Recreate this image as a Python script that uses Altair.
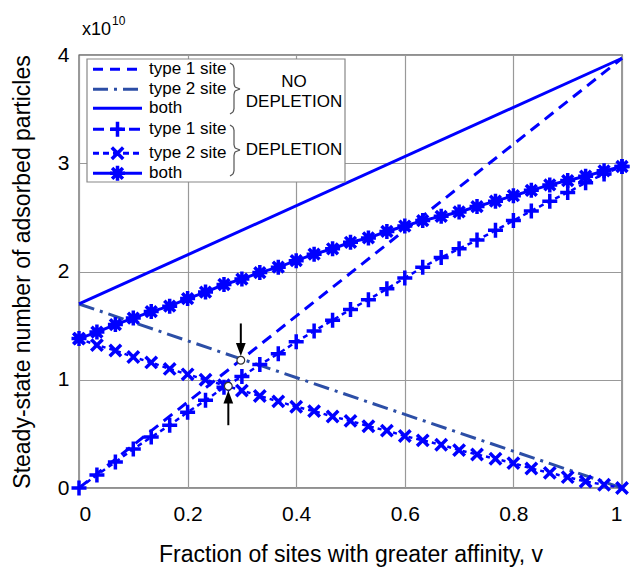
import altair as alt
import pandas as pd

# ---------------- data ----------------
v = [0.0, 0.033, 0.067, 0.1, 0.133, 0.167, 0.2, 0.233, 0.267, 0.3, 0.333, 0.367, 0.4,
     0.433, 0.467, 0.5, 0.533, 0.567, 0.6, 0.633, 0.667, 0.7, 0.733, 0.767, 0.8, 0.833,
     0.867, 0.9, 0.933, 0.967, 1.0]
dep_type1 = [0.0, 0.12, 0.24, 0.36, 0.47, 0.58, 0.70, 0.81, 0.93, 1.03, 1.14, 1.24, 1.35,
             1.45, 1.55, 1.65, 1.74, 1.84, 1.94, 2.04, 2.13, 2.21, 2.29, 2.38, 2.47, 2.56,
             2.65, 2.73, 2.82, 2.90, 2.97]
dep_type2 = [1.38, 1.32, 1.27, 1.21, 1.16, 1.10, 1.05, 1.00, 0.95, 0.90, 0.85, 0.80, 0.75,
             0.71, 0.66, 0.62, 0.57, 0.53, 0.48, 0.44, 0.40, 0.35, 0.31, 0.27, 0.23, 0.18,
             0.14, 0.10, 0.06, 0.03, 0.0]
dep_both = [1.38, 1.44, 1.51, 1.57, 1.63, 1.68, 1.75, 1.81, 1.88, 1.93, 1.99, 2.04, 2.10,
            2.16, 2.21, 2.27, 2.31, 2.37, 2.42, 2.47, 2.51, 2.55, 2.60, 2.65, 2.70, 2.75,
            2.80, 2.84, 2.88, 2.93, 2.97]

nd_v = [0.0, 1.0]
nd_type1 = [0.0, 3.97]
nd_type2 = [1.70, 0.0]
nd_both = [1.70, 3.97]

circle_v = [0.298, 0.275]
circle_y = [1.18, 0.94]
arrow_down_v = [0.298]
arrow_down_from = [1.52]
arrow_down_head = [1.28]
arrow_up_v = [0.275]
arrow_up_from = [0.58]
arrow_up_head = [0.84]

x_ticks = [0, 0.2, 0.4, 0.6, 0.8, 1]
y_ticks = [0, 1, 2, 3, 4]

x_title = "Fraction of sites with greater affinity, v"
y_title = "Steady-state number of adsorbed particles"

legend_labels = ["type 1 site", "type 2 site", "both", "type 1 site", "type 2 site", "both"]

# ---------------- styling ----------------
BLUE = "#0000ff"
DARKBLUE = "#2c4ea6"
FONT = "Liberation Sans"
W, H = 543, 433

PLUS = "M-1,0L1,0M0,-1L0,1"
XMARK = "M-1,-1L1,1M-1,1L1,-1"
STAR = "M-1,0L1,0M0,-1L0,1M-0.72,-0.72L0.72,0.72M-0.72,0.72L0.72,-0.72"
HEAD_DOWN = "M-0.75,-1L0.75,-1L0,1Z"
HEAD_UP = "M-0.75,1L0.75,1L0,-1Z"

dep = pd.DataFrame({"v": v, "t1": dep_type1, "t2": dep_type2, "both": dep_both})
nd = pd.DataFrame({"v": nd_v, "t1": nd_type1, "t2": nd_type2, "both": nd_both})
circ = pd.DataFrame({"v": circle_v, "y": circle_y})
adown = pd.DataFrame({"v": arrow_down_v, "y1": arrow_down_from, "y2": arrow_down_head})
aup = pd.DataFrame({"v": arrow_up_v, "y1": arrow_up_from, "y2": arrow_up_head})
one = pd.DataFrame({"a": [0]})

xs = alt.Scale(domain=[0, 1], nice=False, zero=False)
ys = alt.Scale(domain=[0, 4], nice=False)

xaxis = alt.Axis(values=x_ticks, format="~g", title=x_title, grid=True, ticks=False,
                 domain=False, labelPadding=15, titleX=W / 2, titleY=66,
                 titleBaseline="middle", titleAlign="center")
yaxis = alt.Axis(values=y_ticks, format="~g", title=y_title, grid=True, ticks=False,
                 domain=False, labelPadding=10, titleX=-57, titleY=H / 2,
                 titleAngle=270, titleBaseline="middle", titleAlign="center")

X = alt.X("v:Q", scale=xs, axis=xaxis)


def Y(field):
    return alt.Y(field, type="quantitative", scale=ys, axis=yaxis)


layers = []

# no depletion
layers.append(alt.Chart(nd).mark_line(color=BLUE, strokeWidth=3, strokeDash=[11, 7], clip=False)
              .encode(x=X, y=Y("t1")))
layers.append(alt.Chart(nd).mark_line(color=DARKBLUE, strokeWidth=3, strokeDash=[16, 6, 3, 6], clip=False)
              .encode(x=X, y=Y("t2")))
layers.append(alt.Chart(nd).mark_line(color=BLUE, strokeWidth=3, clip=False)
              .encode(x=X, y=Y("both")))

# depletion
layers.append(alt.Chart(dep).mark_line(color=BLUE, strokeWidth=2.5, strokeDash=[5, 4], clip=False)
              .encode(x=X, y=Y("t1")))
layers.append(alt.Chart(dep).mark_point(shape=PLUS, size=225, filled=False, color=BLUE,
                                        strokeWidth=3.5, opacity=1, clip=False)
              .encode(x=X, y=Y("t1")))
layers.append(alt.Chart(dep).mark_line(color=BLUE, strokeWidth=2.5, strokeDash=[4, 4], clip=False)
              .encode(x=X, y=Y("t2")))
layers.append(alt.Chart(dep).mark_point(shape=XMARK, size=130, filled=False, color=BLUE,
                                        strokeWidth=3.5, opacity=1, clip=False)
              .encode(x=X, y=Y("t2")))
layers.append(alt.Chart(dep).mark_line(color=BLUE, strokeWidth=3, clip=False)
              .encode(x=X, y=Y("both")))
layers.append(alt.Chart(dep).mark_point(shape=STAR, size=225, filled=False, color=BLUE,
                                        strokeWidth=3.5, opacity=1, clip=False)
              .encode(x=X, y=Y("both")))

# arrows and circles
layers.append(alt.Chart(adown).mark_rule(color="black", strokeWidth=2)
              .encode(x=X, y=Y("y1"), y2="y2:Q"))
layers.append(alt.Chart(adown).mark_point(shape=HEAD_DOWN, size=169, filled=True, color="black", opacity=1)
              .encode(x=X, y=Y("y2")))
layers.append(alt.Chart(aup).mark_rule(color="black", strokeWidth=2)
              .encode(x=X, y=Y("y1"), y2="y2:Q"))
layers.append(alt.Chart(aup).mark_point(shape=HEAD_UP, size=169, filled=True, color="black", opacity=1)
              .encode(x=X, y=Y("y2")))
layers.append(alt.Chart(circ).mark_point(shape="circle", size=60, filled=True, fill="white",
                                         stroke="#333", strokeWidth=1.2, opacity=1)
              .encode(x=X, y=Y("y")))

# ---------------- legend (drawn in pixel space of the plot area) ----------------
layers.append(alt.Chart(one).mark_rect(fill="white", stroke="#888", strokeWidth=1.2)
              .encode(x=alt.value(8), x2=alt.value(266), y=alt.value(4), y2=alt.value(127)))

row_y = [14.3, 34.3, 53.3, 74.3, 98.3, 118.3]
lx1, lx2, lxm = 14, 63, 38.5
row_styles = [
    dict(color=BLUE, strokeWidth=3, strokeDash=[10, 7]),
    dict(color=DARKBLUE, strokeWidth=3, strokeDash=[15, 6, 3, 6]),
    dict(color=BLUE, strokeWidth=3),
    dict(color=BLUE, strokeWidth=3, strokeDash=[11, 7]),
    dict(color=BLUE, strokeWidth=3, strokeDash=[6, 4]),
    dict(color=BLUE, strokeWidth=3),
]
for yy, st in zip(row_y, row_styles):
    layers.append(alt.Chart(one).mark_rule(**st)
                  .encode(x=alt.value(lx1), x2=alt.value(lx2), y=alt.value(yy)))
for yy, shp, sz in [(row_y[3], PLUS, 225), (row_y[4], XMARK, 130), (row_y[5], STAR, 225)]:
    layers.append(alt.Chart(one).mark_point(shape=shp, size=sz, filled=False, color=BLUE,
                                            strokeWidth=3.5, opacity=1)
                  .encode(x=alt.value(lxm), y=alt.value(yy)))
for yy, lab in zip(row_y, legend_labels):
    layers.append(alt.Chart(one).mark_text(text=lab, font=FONT, fontSize=17, align="left",
                                           baseline="middle", color="black")
                  .encode(x=alt.value(70), y=alt.value(yy)))


def brace(xl, xv, xt, yt, ym, yb):
    pts = [(xl, yt), (xv - 1, yt + 2), (xv, yt + 5), (xv, ym - 5), (xv + 1, ym - 2), (xt, ym),
           (xv + 1, ym + 2), (xv, ym + 5), (xv, yb - 5), (xv - 1, yb - 2), (xl, yb)]
    segs = []
    for (a, b), (c, d) in zip(pts[:-1], pts[1:]):
        segs.append(alt.Chart(one).mark_rule(color="#555", strokeWidth=1.2)
                    .encode(x=alt.value(a), x2=alt.value(c), y=alt.value(b), y2=alt.value(d)))
    return segs


layers += brace(151, 155, 161, 8, 34, 59)
layers += brace(151, 155, 161, 70, 95, 121)

for txt, yy in [("NO", 26.7), ("DEPLETION", 46.7), ("DEPLETION", 95)]:
    layers.append(alt.Chart(one).mark_text(text=txt, font=FONT, fontSize=17, align="center",
                                           baseline="middle", color="black")
                  .encode(x=alt.value(215), y=alt.value(yy)))

# exponent label
layers.append(alt.Chart(one).mark_text(text="x10", font=FONT, fontSize=18, align="left",
                                       baseline="alphabetic", color="black")
              .encode(x=alt.value(3), y=alt.value(-20)))
layers.append(alt.Chart(one).mark_text(text="10", font=FONT, fontSize=12, align="left",
                                       baseline="alphabetic", color="black")
              .encode(x=alt.value(33), y=alt.value(-30)))

chart = (
    alt.layer(*layers)
    .properties(width=W, height=H,
                padding={"left": 79, "top": 55, "right": 8, "bottom": 81},
                autosize=alt.AutoSizeParams(type="none"))
    .configure_view(stroke="#222", strokeWidth=1.3)
    .configure_axis(labelFont=FONT, titleFont=FONT, labelFontSize=21, titleFontSize=23,
                    titleFontWeight="normal", labelColor="black", titleColor="black",
                    gridColor="#999999", gridWidth=1.2, gridOpacity=1)
)

chart.save("out.html", embed_options={"renderer": "svg", "actions": False})
